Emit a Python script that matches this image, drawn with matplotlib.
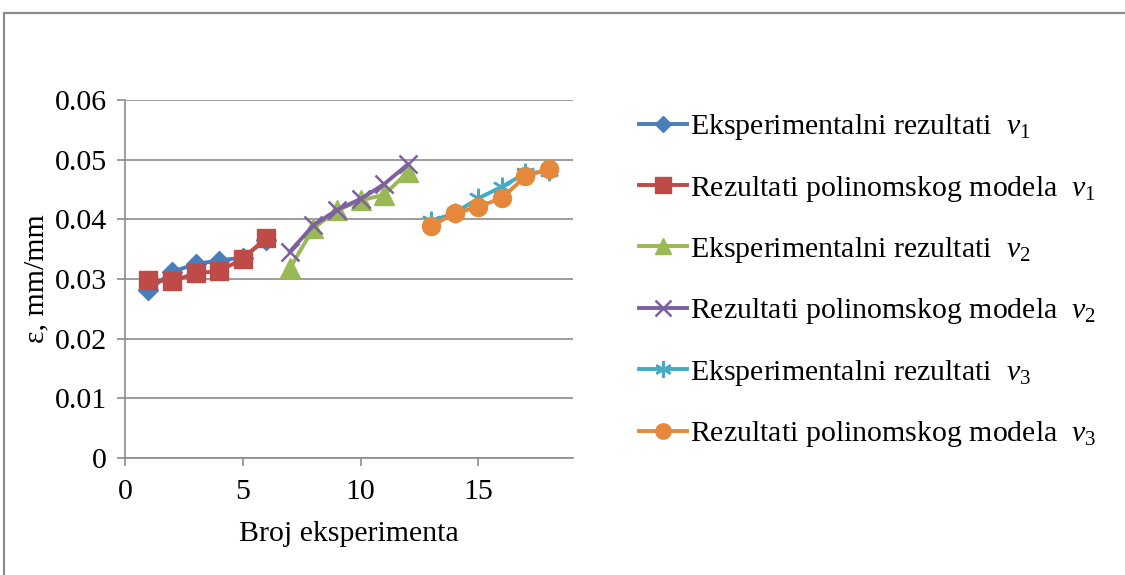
import numpy as np
import matplotlib
matplotlib.use("Agg")
import matplotlib.pyplot as plt
from matplotlib.patches import Rectangle

plt.rcParams['font.family'] = ['Liberation Serif', 'DejaVu Serif']
plt.rcParams['mathtext.fontset'] = 'custom'
plt.rcParams['mathtext.rm'] = 'Liberation Serif'
plt.rcParams['mathtext.it'] = 'Liberation Serif:italic'

# data
x1 = [1, 2, 3, 4, 5, 6]
exp_v1 = [0.0281, 0.0312, 0.0325, 0.0331, 0.0336, 0.0366]
poly_v1 = [0.0298, 0.0296, 0.0310, 0.0313, 0.0334, 0.0369]

x2 = [7, 8, 9, 10, 11, 12]
exp_v2 = [0.0318, 0.0385, 0.0415, 0.0432, 0.0441, 0.0479]
poly_v2 = [0.0346, 0.0390, 0.0416, 0.0434, 0.0459, 0.0492]

x3 = [13, 14, 15, 16, 17, 18]
exp_v3 = [0.0397, 0.0411, 0.0435, 0.0455, 0.0477, 0.0481]
poly_v3 = [0.0389, 0.0410, 0.0421, 0.0436, 0.0472, 0.0485]

labels = [
    r'Eksperimentalni rezultati  $\mathit{v}_{\mathit{1}}$',
    r'Rezultati polinomskog modela  $\mathit{v}_{\mathit{1}}$',
    r'Eksperimentalni rezultati  $\mathit{v}_{\mathit{2}}$',
    r'Rezultati polinomskog modela  $\mathit{v}_{\mathit{2}}$',
    r'Eksperimentalni rezultati  $\mathit{v}_{\mathit{3}}$',
    r'Rezultati polinomskog modela  $\mathit{v}_{\mathit{3}}$',
]

FS = 21.5

fig = plt.figure(figsize=(11.25, 5.75), dpi=100)
ax = fig.add_axes([0.111, 0.2035, 0.398, 0.6225])

# chart frame
fig.patches.append(Rectangle((0.0036, -0.05), 1.1, 0.05 + 1 - 13 / 575,
                             transform=fig.transFigure, fill=False,
                             edgecolor='#8c8c8c', linewidth=1.6))

lw = 2.8
ax.plot(x1, exp_v1, color='#4a7ebb', lw=lw, marker='D', ms=10, label=labels[0])
ax.plot(x1, poly_v1, color='#be4b48', lw=lw, marker='s', ms=13, label=labels[1])
ax.plot(x2, exp_v2, color='#98b954', lw=lw, marker='^', ms=14, label=labels[2])
ax.plot(x2, poly_v2, color='#7d60a0', lw=lw, marker='x', ms=13, mew=1.8, label=labels[3])
ax.plot(x3, exp_v3, color='#46aac5', lw=lw, marker=(6, 2, 0), ms=14, mew=1.8, label=labels[4])
ax.plot(x3, poly_v3, color='#e5883c', lw=lw, marker='o', ms=13, label=labels[5])

ax.set_xlim(0, 19)
ax.set_ylim(0, 0.06)
ax.set_xticks([0, 5, 10, 15])
ax.set_yticks(np.arange(0, 0.061, 0.01))
ax.set_yticklabels(['0', '0.01', '0.02', '0.03', '0.04', '0.05', '0.06'])
ax.grid(axis='y', color='#8c8c8c', lw=1.2)
ax.set_axisbelow(True)
for s in ['top', 'right']:
    ax.spines[s].set_visible(False)
for s in ['left', 'bottom']:
    ax.spines[s].set_color('#8c8c8c')
    ax.spines[s].set_linewidth(1.2)
ax.tick_params(labelsize=FS, color='#8c8c8c', width=1.2, length=6)
ax.tick_params(axis='x', pad=9)
ax.tick_params(axis='y', pad=7)

ax.set_xlabel('Broj eksperimenta', fontsize=FS, labelpad=12)
ax.set_ylabel('ε, mm/mm', fontsize=FS, labelpad=4)

fig.legend(loc='center left', bbox_to_anchor=(0.568, 0.512), frameon=False,
           fontsize=FS, handlelength=1.6, handletextpad=0.1, labelspacing=1.05,
           markerscale=0.85, borderpad=0, borderaxespad=0)

fig.savefig('out.png', dpi=100)
